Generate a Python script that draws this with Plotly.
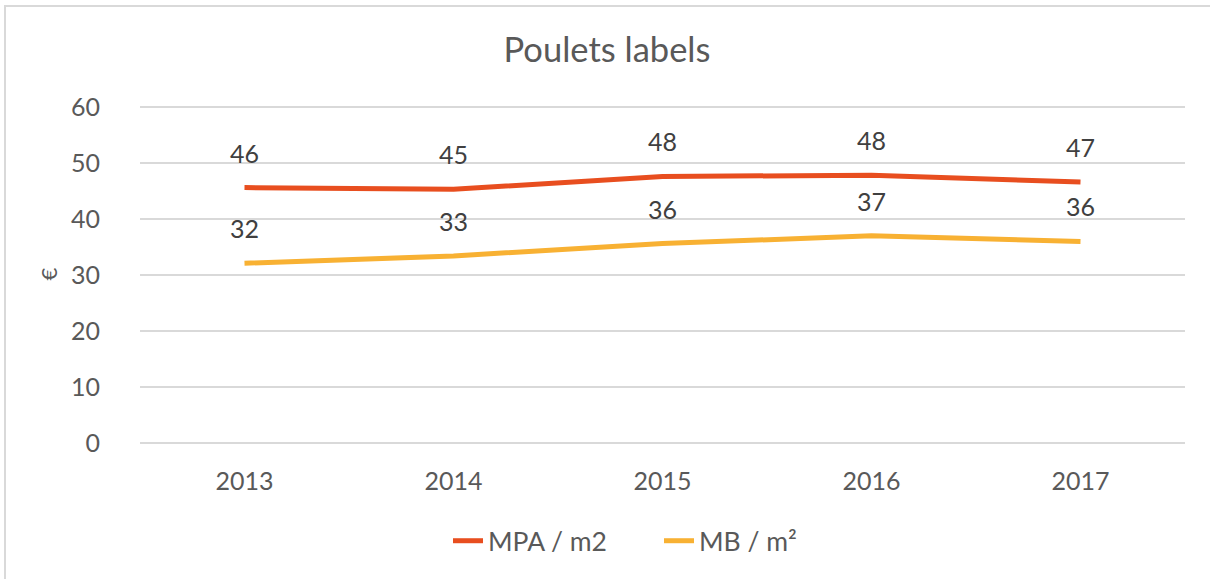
import plotly.graph_objects as go

years = ["2013", "2014", "2015", "2016", "2017"]
mpa = [45.6, 45.3, 47.6, 47.8, 46.6]
mb = [32.1, 33.4, 35.6, 37.0, 36.0]
series_names = ["MPA / m2", "MB / m²"]
y_ticks = [0, 10, 20, 30, 40, 50, 60]

colors = ["#E84E1F", "#F8B133"]
FONT = "Lato, 'Open Sans', sans-serif"

fig = go.Figure()
for name, vals, col in zip(series_names, [mpa, mb], colors):
    fig.add_trace(go.Scatter(
        x=years, y=vals, name=name, mode="lines",
        line=dict(color=col, width=5),
        hoverinfo="skip",
    ))

annotations = []
for vals in [mpa, mb]:
    for i, v in enumerate(vals):
        annotations.append(dict(
            x=i, y=v, xref="x", yref="y", text=f"{v:.0f}",
            showarrow=False, yshift=35, yanchor="middle",
            font=dict(family=FONT, size=25, color="#404040"),
        ))

fig.update_layout(
    width=1210, height=579,
    margin=dict(l=140, r=25, t=105, b=136),
    paper_bgcolor="white", plot_bgcolor="white",
    title=dict(text="Poulets labels", x=607/1210, xanchor="center",
               y=1 - 50/579, yanchor="middle", yref="container",
               font=dict(family=FONT, size=34.5, color="#595959")),
    showlegend=True,
    legend=dict(orientation="h", x=659/1210, xanchor="center", xref="container",
                y=1 - 541/579, yanchor="middle", yref="container",
                font=dict(family=FONT, size=26.5, color="#595959"),
                entrywidth=166, entrywidthmode="pixels", tracegroupgap=0),
    annotations=annotations,
    xaxis=dict(type="category", range=[-0.5, 4.5], showgrid=False, zeroline=False,
               showline=False, ticks="outside", ticklen=16, tickcolor="rgba(0,0,0,0)",
               tickfont=dict(family=FONT, size=25, color="#595959")),
    yaxis=dict(range=[0, 60.35], tickvals=y_ticks, showgrid=True, gridcolor="#D9D9D9",
               gridwidth=1.5, zeroline=True, zerolinecolor="#D9D9D9", zerolinewidth=1.5,
               showline=False, ticks="outside", ticklen=34, tickcolor="rgba(0,0,0,0)",
               tickfont=dict(family=FONT, size=25, color="#595959"),
               title=dict(text="€", standoff=7,
                          font=dict(family=FONT, size=22, color="#595959"))),
    shapes=[dict(type="rect", xref="paper", yref="paper",
                 x0=-135/1045, x1=1090/1045, y0=-145/338, y1=437/338,
                 line=dict(color="#D9D9D9", width=2), layer="below")],
)

fig.write_html("out.html", config={"displayModeBar": False},
               post_script="document.body.style.margin='0';")
